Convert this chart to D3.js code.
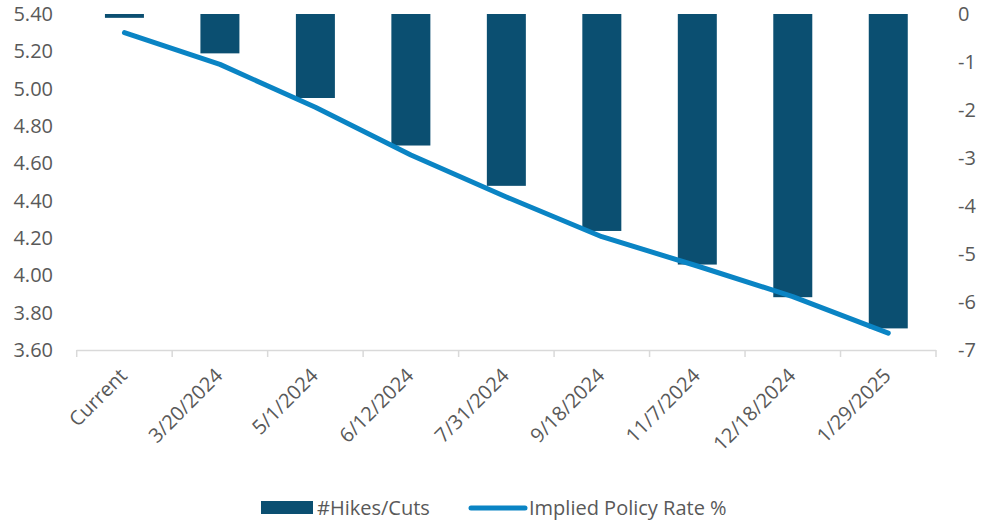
<!DOCTYPE html>
<html><head><meta charset="utf-8">
<script src="https://cdn.jsdelivr.net/npm/d3@7"></script>
<style>body{margin:0;background:#fff;} text{font-family:"Open Sans",sans-serif;fill:#595959;}</style>
</head><body>
<svg id="c" width="988" height="523"></svg>
<script>
const categories = ["Current","3/20/2024","5/1/2024","6/12/2024","7/31/2024","9/18/2024","11/7/2024","12/18/2024","1/29/2025"];
const hikesCuts = [-0.08,-0.82,-1.75,-2.74,-3.58,-4.52,-5.22,-5.90,-6.55];
const impliedRate = [5.30,5.13,4.90,4.645,4.42,4.207,4.05,3.886,3.69];
const leftTicks = [3.6,3.8,4.0,4.2,4.4,4.6,4.8,5.0,5.2,5.4];
const rightTicks = [0,-1,-2,-3,-4,-5,-6,-7];

const svg = d3.select("#c");
const L = 76.7, R = 936, T = 14, B = 350;
const xb = d3.scaleBand().domain(categories).range([L,R]);
const yL = d3.scaleLinear().domain([3.6,5.4]).range([B,T]);
const yR = d3.scaleLinear().domain([-7,0]).range([B,T]);

// bars
svg.append("g").selectAll("rect").data(hikesCuts).join("rect")
  .attr("x",(d,i)=>xb(categories[i]) + xb.bandwidth()/2 - 19.5)
  .attr("width",39)
  .attr("y",d=>yR(0))
  .attr("height",d=>yR(d)-yR(0))
  .attr("fill","#0b4f71");

// x axis
const ax = svg.append("g");
ax.append("line").attr("x1",L).attr("x2",R).attr("y1",B+0.5).attr("y2",B+0.5).attr("stroke","#d9d9d9").attr("stroke-width",1.5);
const bounds = categories.map(c=>xb(c)).concat([R]);
ax.selectAll("line.t").data(bounds).join("line").attr("class","t")
  .attr("x1",d=>d).attr("x2",d=>d).attr("y1",B).attr("y2",B+7).attr("stroke","#d9d9d9").attr("stroke-width",1.5);
ax.selectAll("text").data(categories).join("text")
  .attr("transform",c=>`translate(${xb(c)+xb.bandwidth()/2-1},${B+22}) rotate(-45)`)
  .attr("text-anchor","end").attr("dy","0.35em")
  .attr("font-size",20).text(d=>d);

// left axis labels
svg.append("g").selectAll("text").data(leftTicks).join("text")
  .attr("x",53).attr("y",d=>yL(d)).attr("dy","0.35em").attr("text-anchor","end")
  .attr("font-size",20).text(d=>d3.format(".2f")(d));
// right axis labels
svg.append("g").selectAll("text").data(rightTicks).join("text")
  .attr("x",958).attr("y",d=>yR(d)).attr("dy","0.35em").attr("text-anchor","start")
  .attr("font-size",20).text(d=>d3.format("d")(d).replace("−","-"));

// line
const line = d3.line().x((d,i)=>xb(categories[i])+xb.bandwidth()/2).y(d=>yL(d));
svg.append("path").datum(impliedRate).attr("d",line).attr("fill","none")
  .attr("stroke","#0a84c4").attr("stroke-width",5).attr("stroke-linecap","round").attr("stroke-linejoin","round");

// legend
const lg = svg.append("g");
lg.append("rect").attr("x",261).attr("y",501).attr("width",52).attr("height",13).attr("fill","#0b4f71");
lg.append("text").attr("x",317).attr("y",508).attr("dy","0.35em").attr("font-size",20).text("#Hikes/Cuts");
lg.append("line").attr("x1",471).attr("x2",525).attr("y1",508).attr("y2",508).attr("stroke","#0a84c4").attr("stroke-width",5).attr("stroke-linecap","round");
lg.append("text").attr("x",529).attr("y",508).attr("dy","0.35em").attr("font-size",20).text("Implied Policy Rate %");
</script>
</body></html>
